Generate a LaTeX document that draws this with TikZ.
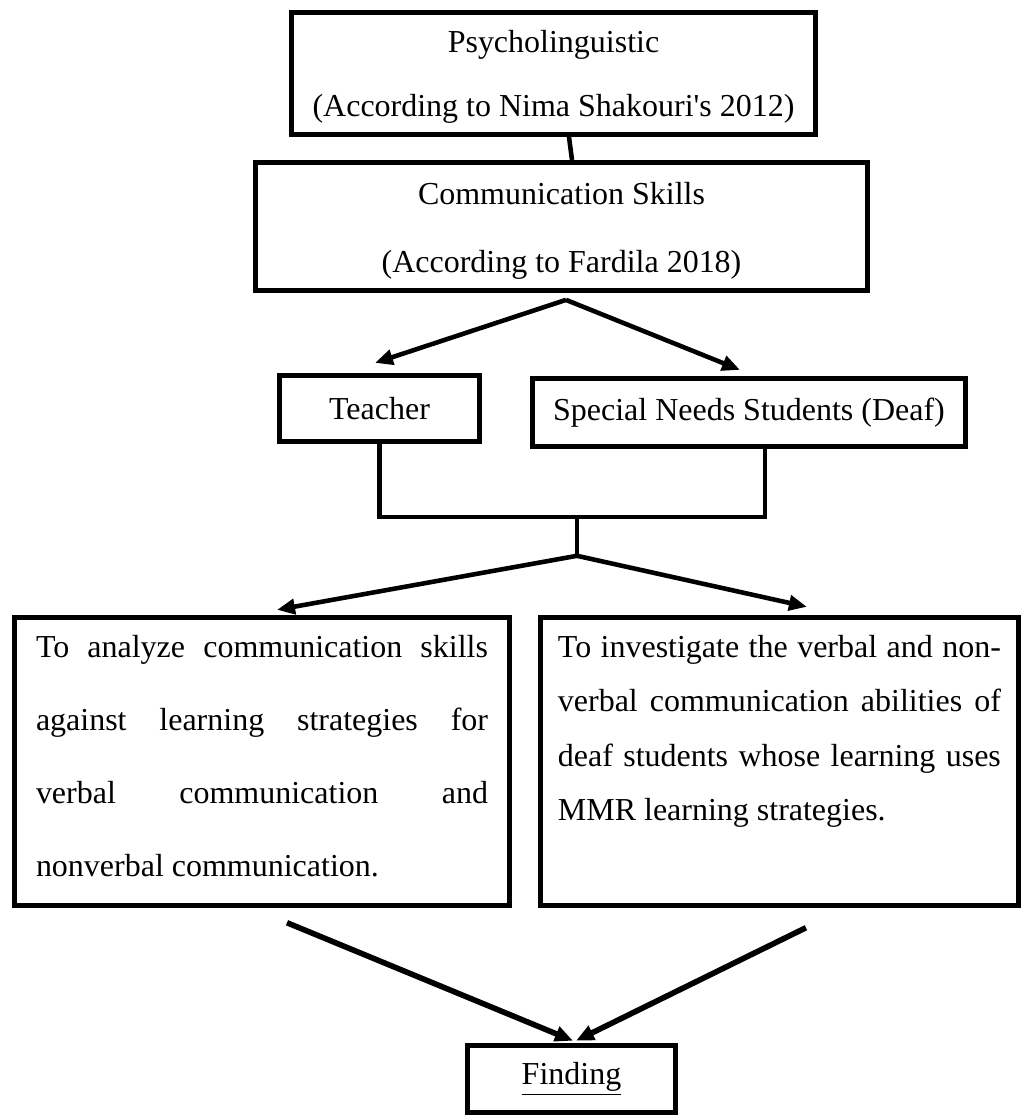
\documentclass[tikz,border=0pt]{standalone}
\usepackage{fontspec}
\setmainfont{Liberation Serif}
\newfontfamily\plainserif{Liberation Serif}
\usetikzlibrary{positioning, arrows.meta, calc}
\newcommand{\goalpar}[2]{\parbox[c][5.04cm][t]{#1}{\hyphenpenalty=10000 #2}}

\begin{document}
\begin{tikzpicture}[
  box/.style={draw, line width=2.8pt, outer sep=1.4pt, inner sep=0pt, align=center, font=\fontsize{18.2}{22}\selectfont},
  link/.style={line width=2.6pt},
  >={Triangle[length=0.36cm, width=0.3cm]}
]
\useasboundingbox (0,0) rectangle (20.48,-22.3);

% Theory boxes
\node[box, minimum width=10.48cm, minimum height=2.44cm, font=\fontsize{18.2}{36.4}\selectfont] (psy) at (11.07,-1.47) {\rule{0pt}{0.58cm}Psycholinguistic\\(According to Nima Shakouri{\plainserif '}s 2012)};
\node[box, below=0.46cm of psy, xshift=0.16cm, minimum width=12.24cm, minimum height=2.56cm, font=\fontsize{18.2}{38.7}\selectfont] (comm) {\rule{0pt}{0.62cm}Communication Skills\\(According to Fardila 2018)};

% Subjects
\node[box, below=1.6cm of comm, xshift=-3.64cm, minimum width=4cm, minimum height=1.32cm] (teacher) {Teacher};
\node[box, below=1.66cm of comm, xshift=3.75cm, minimum width=8.66cm, minimum height=1.36cm] (special) {Special Needs Students (Deaf)};

% Aims
\node[box, below=3.42cm of teacher, xshift=-2.35cm, minimum width=9.9cm, minimum height=5.76cm, font=\fontsize{18.2}{41.5}\selectfont] (analyze) {\goalpar{9.04cm}{To analyze communication skills\linebreak against learning strategies for\linebreak verbal communication and\linebreak nonverbal communication.}};
\node[box, right=0.52cm of analyze, minimum width=9.56cm, minimum height=5.76cm, font=\fontsize{18.2}{31}\selectfont] (investigate) {\goalpar{8.86cm}{To investigate the verbal and non-\linebreak verbal communication abilities of\linebreak deaf students whose learning uses\linebreak MMR learning strategies.}};

% Result
\node[box, below=2.7cm of analyze, xshift=6.19cm, minimum width=4.16cm, minimum height=1.34cm] (finding) {\underline{Finding}};

% Connectors
\draw[link] ([xshift=0.31cm]psy.south) -- ([xshift=0.21cm]comm.north);
\coordinate (fork) at ([xshift=0.09cm, yshift=-0.14cm]comm.south);
\draw[link, ->] (fork) -- ([xshift=-0.09cm, yshift=0.2cm]teacher.north);
\draw[link, ->] (fork) -- ([xshift=-0.18cm, yshift=0.12cm]special.north);

\coordinate (join) at ($(teacher.south)+(3.95,-1.46)$);
\coordinate (sdrop) at ([xshift=0.32cm]special.south);
\draw[link] (teacher.south) |- (join) -| (sdrop);
\coordinate (fork2) at ([yshift=-0.78cm]join);
\draw[link] (join) -- (fork2);
\draw[link, ->] (fork2) -- ([xshift=0.3cm, yshift=0.1cm]analyze.north);
\draw[link, ->] (fork2) -- ([xshift=0.55cm, yshift=0.16cm]investigate.north);

% Towards the finding
\draw[link, line width=3.2pt, ->] ([xshift=0.5cm, yshift=-0.3cm]analyze.south) -- ([xshift=0.03cm, yshift=0.04cm]finding.north);
\draw[link, line width=3.2pt, ->] ([xshift=0.53cm, yshift=-0.4cm]investigate.south) -- ([xshift=0.09cm, yshift=0.04cm]finding.north);

\end{tikzpicture}
\end{document}
